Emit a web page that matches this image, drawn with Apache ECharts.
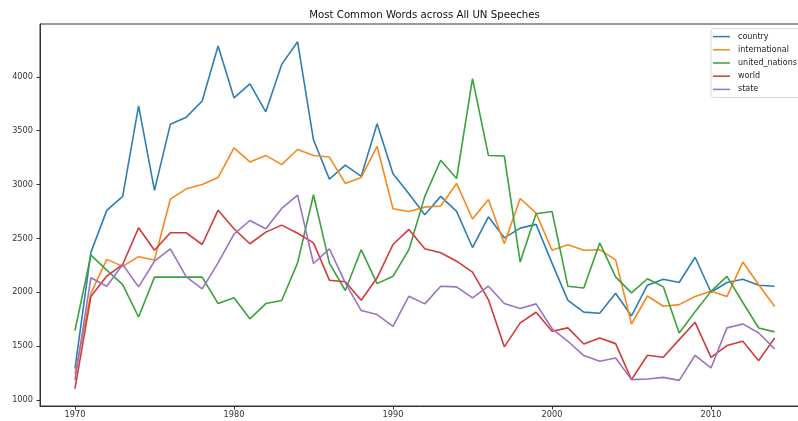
<!DOCTYPE html>
<html>
<head>
<meta charset="utf-8">
<style>
  html, body { margin: 0; padding: 0; background: #fff; }
  #chart { width: 798px; height: 421px; }
</style>
<script src="https://cdn.jsdelivr.net/npm/echarts@6/dist/echarts.min.js"></script>
</head>
<body>
<div id="chart"></div>
<script>
// Yearly word counts in UN General Debate speeches
const years = [1970, 1971, 1972, 1973, 1974, 1975, 1976, 1977, 1978, 1979,
  1980, 1981, 1982, 1983, 1984, 1985, 1986, 1987, 1988, 1989,
  1990, 1991, 1992, 1993, 1994, 1995, 1996, 1997, 1998, 1999,
  2000, 2001, 2002, 2003, 2004, 2005, 2006, 2007, 2008, 2009,
  2010, 2011, 2012, 2013, 2014];

const country = [1290, 2370, 2760, 2890, 3730, 2945, 3560, 3625, 3775, 4285,
  3805, 3935, 3675, 4115, 4325, 3415, 3050, 3180, 3075, 3565,
  3100, 2915, 2720, 2890, 2750, 2415, 2700, 2505, 2595, 2630,
  2270, 1925, 1815, 1805, 1990, 1780, 2065, 2120, 2090, 2325,
  2000, 2090, 2120, 2065, 2055];

const international = [1240, 1990, 2305, 2240, 2330, 2300, 2865, 2960, 3000, 3065,
  3340, 3210, 3270, 3185, 3325, 3270, 3255, 3010, 3065, 3355,
  2775, 2750, 2790, 2800, 3010, 2680, 2860, 2450, 2870, 2735,
  2390, 2440, 2390, 2395, 2300, 1705, 1965, 1870, 1885, 1960,
  2010, 1960, 2280, 2070, 1868];

const unitedNations = [1645, 2345, 2205, 2070, 1770, 2140, 2140, 2140, 2140, 1895,
  1948, 1753, 1895, 1923, 2273, 2905, 2270, 2016, 2395, 2080,
  2148, 2395, 2890, 3225, 3055, 3983, 3270, 3264, 2280, 2728,
  2750, 2055, 2040, 2458, 2143, 1994, 2125, 2050, 1622, 1820,
  2008, 2148, 1905, 1668, 1632];

const world = [1105, 1960, 2150, 2258, 2598, 2390, 2552, 2552, 2443, 2762,
  2589, 2450, 2558, 2623, 2548, 2458, 2112, 2097, 1926, 2134,
  2443, 2583, 2403, 2366, 2288, 2186, 1932, 1493, 1716, 1814,
  1638, 1669, 1520, 1576, 1523, 1189, 1415, 1396, 1560, 1721,
  1396, 1505, 1545, 1365, 1576];

const state = [1185, 2134, 2056, 2258, 2050, 2288, 2403, 2143, 2031, 2273,
  2540, 2666, 2589, 2778, 2902, 2267, 2403, 2087, 1830, 1793,
  1684, 1963, 1892, 2056, 2050, 1948, 2056, 1895, 1849, 1892,
  1663, 1545, 1412, 1359, 1390, 1189, 1195, 1210, 1182, 1415,
  1297, 1669, 1706, 1622, 1474];

const seriesNames = ['country', 'international', 'united_nations', 'world', 'state'];
const seriesValues = [country, international, unitedNations, world, state];
const seriesColors = ['#2f7db5', '#f5891f', '#3aa23a', '#d33a3a', '#9a74bf'];

const xTicks = [1970, 1980, 1990, 2000, 2010];
const yTicks = [1000, 1500, 2000, 2500, 3000, 3500, 4000];

const FONT = 'DejaVu Sans';
const AXIS_COLOR = '#333';

const chart = echarts.init(document.getElementById('chart'), null, { renderer: 'canvas' });

const series = seriesNames.map((name, i) => ({
  name: name,
  type: 'line',
  data: years.map((y, k) => [y, seriesValues[i][k]]),
  showSymbol: false,
  symbol: 'none',
  lineStyle: { width: 1.6, color: seriesColors[i] },
  itemStyle: { color: seriesColors[i] },
  emphasis: { disabled: true },
  animation: false
}));

chart.setOption({
  backgroundColor: '#ffffff',
  animation: false,
  title: {
    text: 'Most Common Words across All UN Speeches',
    left: 424.5,
    top: 10,
    textAlign: 'center',
    padding: 0,
    textStyle: { fontFamily: FONT, fontSize: 10.2, fontWeight: 'normal', color: '#111' }
  },
  legend: {
    orient: 'vertical',
    left: 711,
    top: 28.5,
    padding: [1.5, 60, 1.5, 2],
    itemGap: 0,
    itemWidth: 17,
    itemHeight: 1.5,
    icon: 'rect',
    backgroundColor: '#ffffff',
    borderColor: '#d8d8d8',
    borderWidth: 1,
    borderRadius: 3,
    data: seriesNames,
    textStyle: {
      fontFamily: FONT,
      fontSize: 8,
      color: '#222',
      lineHeight: 13.2,
      padding: [0, 0, 0, 3]
    }
  },
  grid: {
    left: 40,
    top: 24,
    width: 769.6,
    height: 382,
    outerBoundsMode: 'none',
    containLabel: false,
    show: true,
    borderColor: AXIS_COLOR,
    borderWidth: 1,
    backgroundColor: 'transparent'
  },
  xAxis: {
    type: 'value',
    min: 1967.8,
    max: 2016.2,
    axisLine: { show: true, onZero: false, lineStyle: { color: AXIS_COLOR, width: 1 } },
    axisTick: { show: true, inside: false, length: 3.5, customValues: xTicks, lineStyle: { color: AXIS_COLOR } },
    axisLabel: {
      customValues: xTicks,
      margin: 5,
      fontFamily: FONT,
      fontSize: 8.2,
      color: '#333',
      formatter: v => String(v)
    },
    splitLine: { show: false }
  },
  yAxis: {
    type: 'value',
    min: 944,
    max: 4490,
    axisLine: { show: true, onZero: false, lineStyle: { color: AXIS_COLOR, width: 1 } },
    axisTick: { show: true, inside: false, length: 3.5, customValues: yTicks, lineStyle: { color: AXIS_COLOR } },
    axisLabel: {
      customValues: yTicks,
      margin: 7,
      fontFamily: FONT,
      fontSize: 8.2,
      color: '#333',
      formatter: v => String(v)
    },
    splitLine: { show: false }
  },
  series: series
});
</script>
</body>
</html>
